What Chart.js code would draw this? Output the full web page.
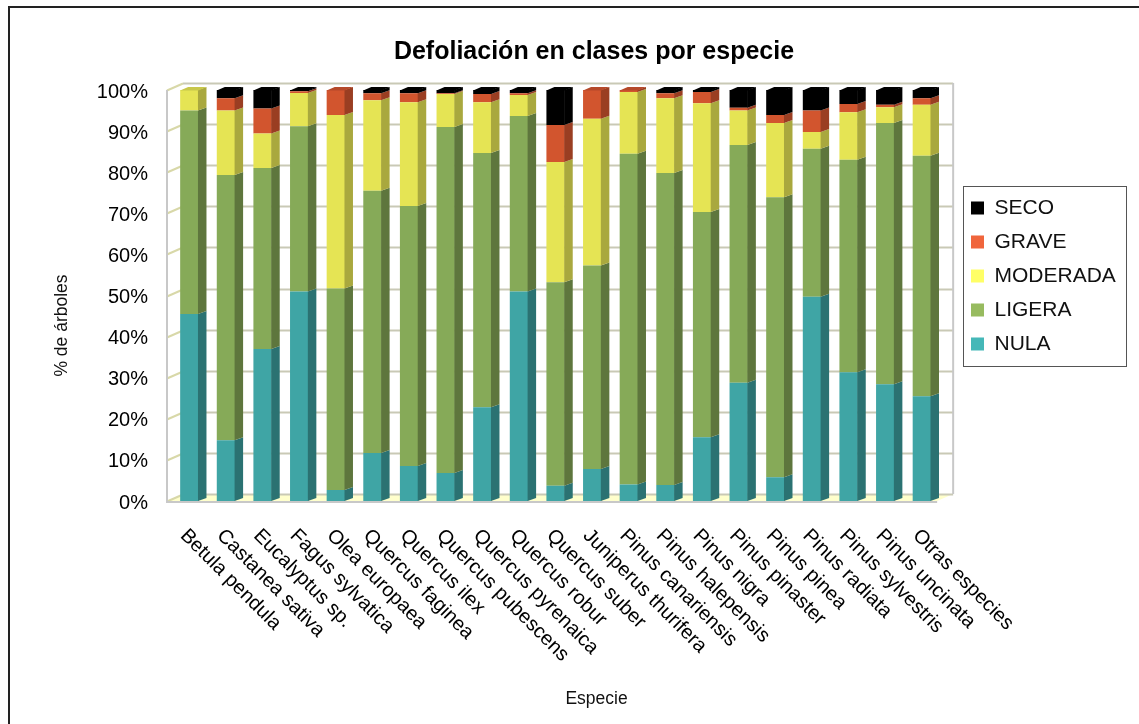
<!DOCTYPE html>
<html>
<head>
<meta charset="utf-8">
<title>Defoliación en clases por especie</title>
<script src="https://cdn.jsdelivr.net/npm/chart.js@4"></script>
<style>
  html, body { margin: 0; padding: 0; background: #fff; }
  #wrap { position: relative; width: 1139px; height: 724px; }
</style>
</head>
<body>
<div id="wrap"><canvas id="chart" width="1139" height="724"></canvas></div>
<script>
const especies = [
    'Betula pendula', 'Castanea sativa', 'Eucalyptus sp.', 'Fagus sylvatica', 'Olea europaea',
    'Quercus faginea', 'Quercus ilex', 'Quercus pubescens', 'Quercus pyrenaica', 'Quercus robur',
    'Quercus suber', 'Juniperus thurifera', 'Pinus canariensis', 'Pinus halepensis', 'Pinus nigra',
    'Pinus pinaster', 'Pinus pinea', 'Pinus radiata', 'Pinus sylvestris', 'Pinus uncinata', 'Otras especies'
];
const nula = [45.5, 14.8, 37, 51, 2.7, 11.7, 8.5, 6.8, 22.8, 51, 3.7, 7.8, 4, 3.9, 15.5, 28.8, 5.8, 49.7, 31.3, 28.4, 25.5];
const ligera = [49.5, 64.5, 44, 40.2, 49, 63.8, 63.3, 84.2, 61.9, 42.7, 49.5, 49.5, 80.5, 75.9, 54.8, 57.8, 68.1, 36, 51.7, 63.6, 58.5];
const moderada = [5, 15.7, 8.4, 8.1, 42.2, 22, 25.2, 8, 12.3, 5.1, 29.3, 35.7, 15, 18.2, 26.5, 8.4, 18.1, 4.1, 11.6, 3.8, 12.4];
const grave = [0, 3, 6.1, 0.4, 6.1, 1.7, 2.2, 0.2, 2, 0.4, 9, 7, 0.5, 1.2, 2.7, 0.7, 1.9, 5.2, 2, 0.6, 1.6];
const seco = [0, 2, 4.5, 0.3, 0, 0.8, 0.8, 0.8, 1, 0.8, 8.5, 0, 0, 0.8, 0.5, 4.3, 6.1, 5, 3.4, 3.6, 2];

const yTicks = [0, 10, 20, 30, 40, 50, 60, 70, 80, 90, 100];

const clases = ['NULA', 'LIGERA', 'MODERADA', 'GRAVE', 'SECO'];
const valores = [nula, ligera, moderada, grave, seco];
const frontColors = ['#3fa5a5', '#86aa58', '#e5e454', '#d2552e', '#000000'];
const sideColors = ['#2b7272', '#5e763d', '#a9a83e', '#9a3e22', '#000000'];
const topColors = ['#338585', '#6d8a47', '#c8c74a', '#b5492a', '#000000'];
const legendColors = ['#45b8b8', '#97bb5f', '#ffff66', '#f0653c', '#000000'];

const fontName = '"Liberation Sans", Arial, sans-serif';

// 3d look: bar depth and wall depth in px
const barDx = 8, barDy = 3;
const wallDx = 16, wallDy = 7;
const wallLeftShift = 4;

// nudges a scale's draw method, the axis titles here are not centred on the plot
function nudge(scale, method, dx, dy) {
    if (scale['_nudged' + method]) return;
    scale['_nudged' + method] = true;
    const orig = scale[method];
    scale[method] = function () {
        const ctx = scale.ctx;
        ctx.save();
        ctx.translate(dx, dy);
        orig.apply(scale, arguments);
        ctx.restore();
    };
}

const backdrop = {
    id: 'backdrop',
    afterLayout(chart) {
        // legend box sits on its own, not where the layout wants it
        const lg = chart.legend;
        const w = lg.right - lg.left, h = lg.bottom - lg.top;
        lg.left = 958; lg.right = 958 + w;
        lg.top = 276 - h / 2; lg.bottom = 276 + h / 2;
        // title is centred a bit right of the plot
        chart.titleBlock.left += 32;
    },
    beforeDatasetsDraw(chart) {
        const ctx = chart.ctx, a = chart.chartArea, y = chart.scales.y;
        const left = a.left - wallLeftShift, right = a.right - wallLeftShift + 1;
        ctx.save();

        // floor
        ctx.fillStyle = '#ffffcc';
        ctx.beginPath();
        ctx.moveTo(left, a.bottom);
        ctx.lineTo(right, a.bottom);
        ctx.lineTo(right + wallDx, a.bottom - wallDy);
        ctx.lineTo(left + wallDx, a.bottom - wallDy);
        ctx.closePath();
        ctx.fill();

        // back grid + little slanted ticks on the side wall
        yTicks.forEach(function (v) {
            const py = Math.round(y.getPixelForValue(v)) + 0.5;
            ctx.strokeStyle = '#c9c9b5';
            ctx.lineWidth = 2;
            ctx.beginPath();
            ctx.moveTo(left + wallDx, py - wallDy);
            ctx.lineTo(right + wallDx, py - wallDy);
            ctx.stroke();
            ctx.strokeStyle = '#d8d8a8';
            ctx.beginPath();
            ctx.moveTo(left, py);
            ctx.lineTo(left + wallDx, py - wallDy);
            ctx.stroke();
        });

        // walls
        ctx.strokeStyle = '#c8c8c8';
        ctx.lineWidth = 2;
        ctx.beginPath();
        ctx.moveTo(left, a.top);
        ctx.lineTo(left, a.bottom + 1);
        ctx.lineTo(right, a.bottom + 1);
        ctx.moveTo(right + wallDx, a.top - wallDy);
        ctx.lineTo(right + wallDx, a.bottom - wallDy);
        ctx.stroke();

        // legend frame
        ctx.strokeStyle = '#555';
        ctx.lineWidth = 1;
        ctx.strokeRect(963.5, 186.5, 163, 180);
        ctx.restore();
    },
    afterDatasetsDraw(chart) {
        const ctx = chart.ctx;
        ctx.save();
        chart.data.datasets.forEach(function (ds, i) {
            chart.getDatasetMeta(i).data.forEach(function (bar, j) {
                const p = bar.getProps(['x', 'y', 'base', 'width'], true);
                if (p.base - p.y < 0.01) return;
                const r = p.x + p.width / 2, l = p.x - p.width / 2;
                ctx.fillStyle = sideColors[i];
                ctx.beginPath();
                // half a px over the front face so no light seam shows
                ctx.moveTo(r - 0.5, p.base);
                ctx.lineTo(r + barDx, p.base - barDy);
                ctx.lineTo(r + barDx, p.y - barDy);
                ctx.lineTo(r - 0.5, p.y);
                ctx.closePath();
                ctx.fill();
                // top face only on the last non empty piece of the stack
                const above = valores.slice(i + 1).some(function (s) { return s[j] > 0; });
                if (!above) {
                    ctx.fillStyle = topColors[i];
                    ctx.beginPath();
                    ctx.moveTo(l, p.y + 0.5);
                    ctx.lineTo(r, p.y + 0.5);
                    ctx.lineTo(r + barDx, p.y - barDy);
                    ctx.lineTo(l + barDx, p.y - barDy);
                    ctx.closePath();
                    ctx.fill();
                }
            });
        });
        ctx.restore();
    },
    afterDraw(chart) {
        // outer frame of the picture: open on the right and bottom
        const ctx = chart.ctx;
        ctx.save();
        ctx.strokeStyle = '#222';
        ctx.lineWidth = 2;
        ctx.beginPath();
        ctx.moveTo(9, 724);
        ctx.lineTo(9, 7);
        ctx.lineTo(1139, 7);
        ctx.stroke();
        ctx.restore();
    }
};

new Chart(document.getElementById('chart'), {
    type: 'bar',
    plugins: [backdrop],
    data: {
        labels: especies,
        datasets: clases.map(function (c, i) {
            return { label: c, data: valores[i], backgroundColor: frontColors[i], borderWidth: 0 };
        })
    },
    options: {
        responsive: false,
        animation: false,
        layout: { padding: { left: 48, top: 37, right: 31, bottom: 14 } },
        datasets: { bar: { categoryPercentage: 0.5, barPercentage: 1 } },
        scales: {
            x: {
                stacked: true,
                grid: { display: false, drawTicks: false },
                border: { display: false },
                afterFit(s) {
                    s.height = 209;
                    // labels hang down to the right from the tick, chart.js only anchors them at the end
                    s._getXAxisLabelAlignment = function () { return 'left'; };
                    nudge(s, 'drawTitle', 41, 4);
                    nudge(s, 'drawLabels', -6, -7);
                },
                title: { display: true, text: 'Especie', color: '#111', font: { family: fontName, size: 17.5 } },
                ticks: {
                    autoSkip: false, minRotation: -45, maxRotation: -45,
                    color: '#000', padding: 30, font: { family: fontName, size: 20 }
                }
            },
            y: {
                stacked: true,
                min: 0,
                max: 100,
                grid: { display: false, drawTicks: false },
                border: { display: false },
                afterFit(s) {
                    s.width = 123;
                    nudge(s, 'drawTitle', 0, 30);
                    nudge(s, 'drawLabels', 0, 2);
                },
                title: { display: true, text: '% de árboles', color: '#111', font: { family: fontName, size: 17.5 } },
                ticks: {
                    stepSize: 10, color: '#000', padding: 23, font: { family: fontName, size: 20 },
                    callback(v) { return v + '%'; }
                }
            }
        },
        plugins: {
            tooltip: { enabled: false },
            title: {
                display: true,
                text: 'Defoliación en clases por especie',
                color: '#000',
                font: { family: fontName, size: 25, weight: 'bold' },
                padding: { top: 0, bottom: 23 }
            },
            legend: {
                position: 'right',
                reverse: true,
                labels: {
                    boxWidth: 13, boxHeight: 13, padding: 13, color: '#111',
                    font: { family: fontName, size: 21 },
                    generateLabels(chart) {
                        return clases.map(function (c, i) {
                            return { text: c, fillStyle: legendColors[i], strokeStyle: legendColors[i], lineWidth: 0, datasetIndex: i, fontColor: '#111' };
                        });
                    }
                }
            }
        }
    }
});
</script>
</body>
</html>
